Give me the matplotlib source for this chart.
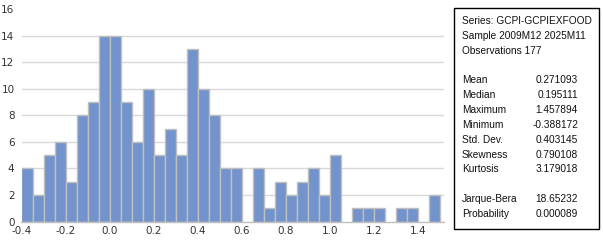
import matplotlib
matplotlib.use("Agg")
import matplotlib.pyplot as plt

# histogram bins (left edges, width 0.05) and counts
bin_lefts = [-0.40, -0.35, -0.30, -0.25, -0.20, -0.15, -0.10, -0.05, 0.00, 0.05,
             0.10, 0.15, 0.20, 0.25, 0.30, 0.35, 0.40, 0.45, 0.50, 0.55,
             0.60, 0.65, 0.70, 0.75, 0.80, 0.85, 0.90, 0.95, 1.00, 1.05,
             1.10, 1.15, 1.20, 1.25, 1.30, 1.35, 1.40, 1.45]
counts = [4, 2, 5, 6, 3, 8, 9, 14, 14, 9,
          6, 10, 5, 7, 5, 13, 10, 8, 4, 4,
          0, 4, 1, 3, 2, 3, 4, 2, 5, 0,
          1, 1, 1, 0, 1, 1, 0, 2]
bin_width = 0.05

x_ticks = [-0.4, -0.2, 0.0, 0.2, 0.4, 0.6, 0.8, 1.0, 1.2, 1.4]
y_ticks = [0, 2, 4, 6, 8, 10, 12, 14, 16]

header_lines = ["Series: GCPI-GCPIEXFOOD", "Sample 2009M12 2025M11", "Observations 177"]
stat_names = ["Mean", "Median", "Maximum", "Minimum", "Std. Dev.", "Skewness", "Kurtosis"]
stat_values = ["0.271093", "0.195111", "1.457894", "-0.388172", "0.403145", "0.790108", "3.179018"]
test_names = ["Jarque-Bera", "Probability"]
test_values = ["18.65232", "0.000089"]

W, H = 603, 241
fig = plt.figure(figsize=(W / 100, H / 100), dpi=100)
ax = fig.add_axes([21.5 / W, 1 - 221.5 / H, (444 - 21.5) / W, (221.5 - 9) / H])

xs = [x for x, c in zip(bin_lefts, counts) if c > 0]
hs = [c for c in counts if c > 0]
ax.bar(xs, hs, width=bin_width, align="edge", color="#7293cb",
       edgecolor="#bfbfbf", linewidth=1.0, zorder=3)

ax.set_xlim(-0.4, 1.518)
ax.set_ylim(0, 16)
ax.set_xticks(x_ticks)
ax.set_xticklabels([f"{t:.1f}" for t in x_ticks])
ax.set_yticks(y_ticks)
for t in y_ticks[1:-1]:
    ax.axhline(t, color="#d9d9d9", linewidth=1.0, zorder=1)

for s in ["top", "right", "left"]:
    ax.spines[s].set_visible(False)
ax.spines["bottom"].set_color("#bfbfbf")
ax.spines["bottom"].set_linewidth(1.0)
ax.spines["bottom"].set_zorder(4)
ax.tick_params(axis="both", length=0, labelsize=7.5, labelcolor="#333333")
ax.tick_params(axis="y", pad=5)
ax.tick_params(axis="x", pad=3)

# statistics box
box = plt.Rectangle((454 / W, 1 - 229 / H), (599 - 454) / W, (229 - 8) / H,
                    transform=fig.transFigure, fill=False, edgecolor="black",
                    linewidth=1.0)
fig.add_artist(box)

rows = header_lines + [""] + list(zip(stat_names, stat_values)) + [""] + list(zip(test_names, test_values))
y0, step = 21, 14.85
txt = dict(fontsize=7.3, va="center", family="Liberation Sans", color="#111111")
for i, row in enumerate(rows):
    y = 1 - (y0 + i * step) / H
    if row == "":
        continue
    if isinstance(row, str):
        fig.text(462 / W, y, row, ha="left", **txt)
    else:
        fig.text(462 / W, y, row[0], ha="left", **txt)
        fig.text(578 / W, y, row[1], ha="right", **txt)

fig.savefig("out.png", dpi=100)
